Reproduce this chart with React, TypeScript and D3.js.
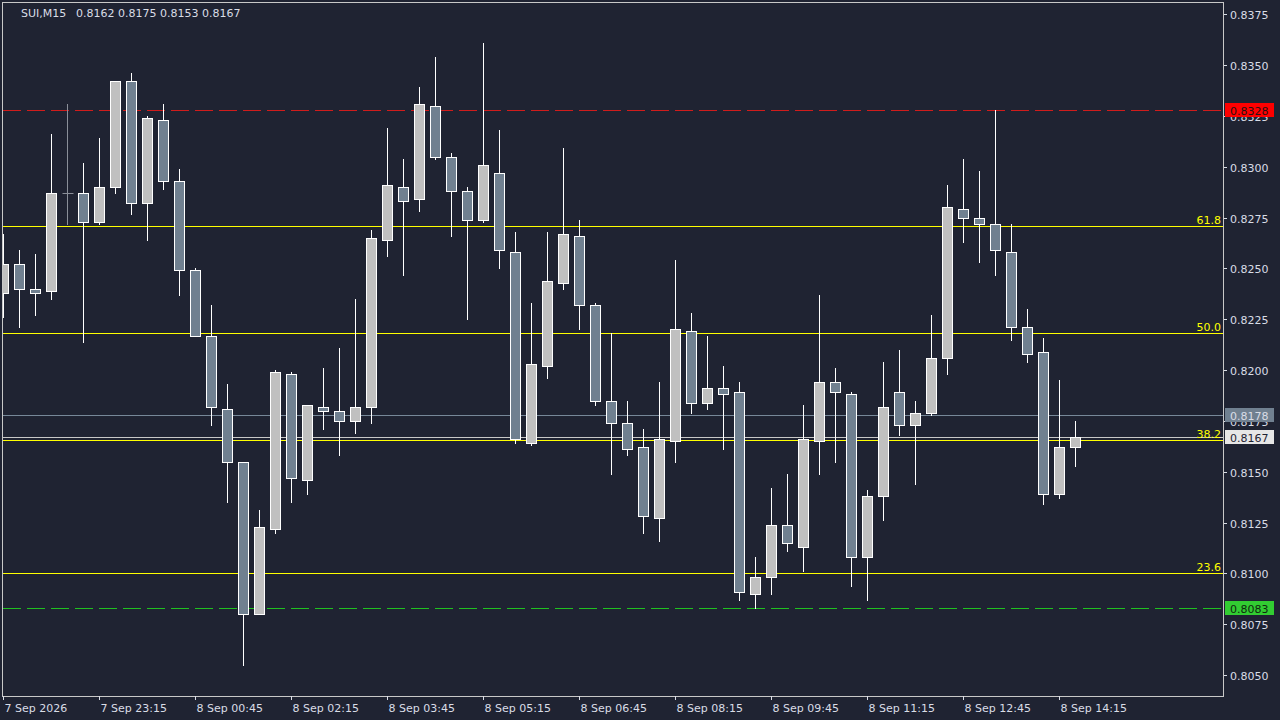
import React from "react";
import * as d3 from "d3";

const symbolName = "SUI,M15";
const titleValues = [0.8162, 0.8175, 0.8153, 0.8167];

const opens = [
  0.8238, 0.8252, 0.8240, 0.8239, 0.8287, 0.8287, 0.8273, 0.8290, 0.8342, 0.8282,
  0.8323, 0.8293, 0.8249, 0.8217, 0.8181, 0.8155, 0.8080, 0.8122, 0.8198, 0.8146,
  0.8182, 0.8180, 0.8175, 0.8182, 0.8264, 0.8290, 0.8284, 0.8330, 0.8305, 0.8288,
  0.8274, 0.8297, 0.8258, 0.8164, 0.8202, 0.8243, 0.8266, 0.8232, 0.8185, 0.8174,
  0.8162, 0.8127, 0.8165, 0.8219, 0.8184, 0.8191, 0.8189, 0.8090, 0.8098, 0.8124,
  0.8113, 0.8165, 0.8194, 0.8188, 0.8108, 0.8138, 0.8189, 0.8173, 0.8179, 0.8206,
  0.8279, 0.8275, 0.8272, 0.8258, 0.8221, 0.8209, 0.8139, 0.8162,
];
const highs = [
  0.8267, 0.8259, 0.8257, 0.8316, 0.8331, 0.8302, 0.8314, 0.8342, 0.8346, 0.8325,
  0.8331, 0.8299, 0.8250, 0.8232, 0.8193, 0.8155, 0.8131, 0.8200, 0.8199, 0.8183,
  0.8201, 0.8211, 0.8235, 0.8269, 0.8319, 0.8304, 0.8339, 0.8354, 0.8307, 0.8290,
  0.8361, 0.8318, 0.8268, 0.8233, 0.8268, 0.8309, 0.8274, 0.8233, 0.8218, 0.8185,
  0.8171, 0.8194, 0.8254, 0.8228, 0.8217, 0.8202, 0.8194, 0.8108, 0.8142, 0.8149,
  0.8183, 0.8237, 0.8201, 0.8189, 0.8141, 0.8204, 0.8210, 0.8185, 0.8227, 0.8291,
  0.8304, 0.8298, 0.8328, 0.8272, 0.8230, 0.8216, 0.8195, 0.8175,
];
const lows = [
  0.8226, 0.8221, 0.8227, 0.8235, 0.8272, 0.8214, 0.8272, 0.8287, 0.8277, 0.8264,
  0.8289, 0.8237, 0.8217, 0.8173, 0.8135, 0.8055, 0.8080, 0.8120, 0.8135, 0.8139,
  0.8171, 0.8158, 0.8169, 0.8174, 0.8256, 0.8247, 0.8278, 0.8304, 0.8266, 0.8225,
  0.8273, 0.8250, 0.8164, 0.8163, 0.8196, 0.8240, 0.8220, 0.8183, 0.8149, 0.8158,
  0.8120, 0.8116, 0.8155, 0.8179, 0.8181, 0.8161, 0.8087, 0.8083, 0.8090, 0.8111,
  0.8101, 0.8149, 0.8155, 0.8094, 0.8087, 0.8126, 0.8168, 0.8144, 0.8178, 0.8198,
  0.8263, 0.8253, 0.8247, 0.8215, 0.8204, 0.8134, 0.8137, 0.8153,
];
const closes = [
  0.8252, 0.8240, 0.8238, 0.8287, 0.8287, 0.8273, 0.8290, 0.8342, 0.8282, 0.8324,
  0.8293, 0.8249, 0.8217, 0.8182, 0.8155, 0.8080, 0.8123, 0.8199, 0.8147, 0.8183,
  0.8180, 0.8175, 0.8182, 0.8265, 0.8291, 0.8283, 0.8331, 0.8305, 0.8288, 0.8274,
  0.8301, 0.8259, 0.8166, 0.8203, 0.8244, 0.8267, 0.8232, 0.8185, 0.8174, 0.8161,
  0.8128, 0.8166, 0.8220, 0.8184, 0.8191, 0.8188, 0.8091, 0.8098, 0.8124, 0.8115,
  0.8166, 0.8194, 0.8189, 0.8108, 0.8138, 0.8182, 0.8173, 0.8179, 0.8206, 0.8280,
  0.8275, 0.8272, 0.8259, 0.8221, 0.8208, 0.8139, 0.8162, 0.8167,
];

const timeTickIndex = [0, 6, 12, 18, 24, 30, 36, 42, 48, 54, 60, 66];
const timeTickLabels = [
  "7 Sep 2026", "7 Sep 23:15", "8 Sep 00:45", "8 Sep 02:15", "8 Sep 03:45", "8 Sep 05:15",
  "8 Sep 06:45", "8 Sep 08:15", "8 Sep 09:45", "8 Sep 11:15", "8 Sep 12:45", "8 Sep 14:15",
];
const priceTicks = [
  0.8375, 0.835, 0.8325, 0.83, 0.8275, 0.825, 0.8225, 0.82, 0.8175, 0.815, 0.8125, 0.81, 0.8075, 0.805,
];

const fibLow = 0.7995;
const fibHigh = 0.8441;
const fibRatios = [0.236, 0.382, 0.5, 0.618];
const fibLabels = ["23.6", "38.2", "50.0", "61.8"];

const markPrices = [0.8328, 0.8083, 0.8178, 0.8167];
const markNames = ["high", "low", "ask", "bid"];

const BG = "#1f2332";
const TEXT = "#d9dde6";
const FONT = "'DejaVu Sans', Verdana, sans-serif";

const markStyle: Record<string, { line: string; dash?: string; box: string; text: string }> = {
  high: { line: "#d01c1c", dash: "18,6", box: "#ff0000", text: "#2a1010" },
  low: { line: "#20c020", dash: "18,6", box: "#32cd32", text: "#0f2a0f" },
  ask: { line: "#778899", box: "#708090", text: "#d9dde6" },
  bid: { line: "#c8c8c8", box: "#e6e6e6", text: "#1f2332" },
};

export default function App() {
  const left = 3;
  const right = 1223;
  const top = 2;
  const bottom = 696;

  const x = d3.scaleLinear().domain([0, (right - left) / 16]).range([left, right]);
  const y = d3.scaleLinear().domain([0.805, 0.8375]).range([675, 14.3]);
  const py = (p: number) => Math.round(y(p));
  const f4 = d3.format(".4f");

  const candles = d3.range(opens.length).map((i) => ({
    i,
    o: opens[i],
    h: highs[i],
    l: lows[i],
    c: closes[i],
  }));

  return (
    <div style={{ position: "fixed", left: 0, top: 0, width: 1280, height: 720 }}>
      <svg width={1280} height={720} style={{ display: "block", background: BG }} fontFamily={FONT}>
        <rect x={0} y={0} width={1280} height={720} fill={BG} />
        <defs>
          <clipPath id="plot">
            <rect x={left} y={top} width={right - left} height={bottom - top} />
          </clipPath>
        </defs>

        {/* horizontal reference lines (behind candles) */}
        <g clipPath="url(#plot)">
          {fibRatios.map((r, k) => {
            const yy = py(fibLow + (fibHigh - fibLow) * r) + 0.5;
            return <line key={"f" + k} x1={left} x2={right} y1={yy} y2={yy} stroke="#ffff00" strokeWidth={1} />;
          })}
          {markPrices.map((p, k) => {
            const st = markStyle[markNames[k]];
            const yy = py(p) + 0.5;
            return (
              <line
                key={"m" + k}
                x1={left}
                x2={right}
                y1={yy}
                y2={yy}
                stroke={st.line}
                strokeWidth={1}
                strokeDasharray={st.dash}
              />
            );
          })}
        </g>

        {/* candles */}
        <g clipPath="url(#plot)">
          {candles.map((d) => {
            const cx = Math.round(x(d.i)) + 0.5;
            const yH = py(d.h);
            const yL = py(d.l);
            if (d.o === d.c) {
              const yo = py(d.o) + 0.5;
              return (
                <g key={d.i} stroke="#8a8f99" strokeWidth={1}>
                  <line x1={cx} x2={cx} y1={yH} y2={yL + 1} />
                  <line x1={cx - 5} x2={cx + 6} y1={yo} y2={yo} />
                </g>
              );
            }
            const bull = d.c > d.o;
            const yT = py(Math.max(d.o, d.c));
            const yB = py(Math.min(d.o, d.c));
            return (
              <g key={d.i}>
                <line x1={cx} x2={cx} y1={yH} y2={yL + 1} stroke="#ffffff" strokeWidth={1} />
                <rect
                  x={cx - 5}
                  y={yT + 0.5}
                  width={10}
                  height={Math.max(1, yB - yT)}
                  fill={bull ? "#c0c0c0" : "#708090"}
                  stroke="#ffffff"
                  strokeWidth={1}
                />
              </g>
            );
          })}
        </g>

        {/* fib labels */}
        {fibRatios.map((r, k) => {
          const yy = py(fibLow + (fibHigh - fibLow) * r);
          return (
            <text key={"fl" + k} x={right - 2} y={yy - 2} fill="#ffff00" fontSize={11} textAnchor="end">
              {fibLabels[k]}
            </text>
          );
        })}

        {/* frame */}
        <rect x={left - 0.5} y={top + 0.5} width={right - left + 1} height={bottom - top} fill="none" stroke="#c8c8c8" strokeWidth={1} />

        {/* price axis */}
        {priceTicks.map((p, k) => {
          const yy = py(p) + 0.5;
          return (
            <g key={"pt" + k}>
              <line x1={right + 1} x2={right + 4} y1={yy} y2={yy} stroke={TEXT} strokeWidth={1} />
              <text x={1230} y={yy + 4} fill={TEXT} fontSize={11}>
                {f4(p)}
              </text>
            </g>
          );
        })}

        {/* price marker boxes */}
        {markPrices.map((p, k) => {
          const st = markStyle[markNames[k]];
          const yy = py(p);
          return (
            <g key={"mb" + k}>
              <rect x={1225} y={yy - 7} width={49} height={14} fill={st.box} />
              <text x={1230} y={yy + 4.5} fill={st.text} fontSize={11}>
                {f4(p)}
              </text>
            </g>
          );
        })}

        {/* time axis */}
        {timeTickIndex.map((ti, k) => {
          const xx = Math.round(x(ti)) + 0.5;
          return (
            <g key={"tt" + k}>
              <line x1={xx} x2={xx} y1={bottom} y2={bottom + 4} stroke={TEXT} strokeWidth={1} />
              <text x={xx + 1} y={712} fill={TEXT} fontSize={11}>
                {timeTickLabels[k]}
              </text>
            </g>
          );
        })}

        {/* title */}
        <text x={21} y={17} fill={TEXT} fontSize={11}>
          <tspan>{symbolName}</tspan>
          <tspan x={76}>{titleValues.map(f4).join(" ")}</tspan>
        </text>
      </svg>
    </div>
  );
}
